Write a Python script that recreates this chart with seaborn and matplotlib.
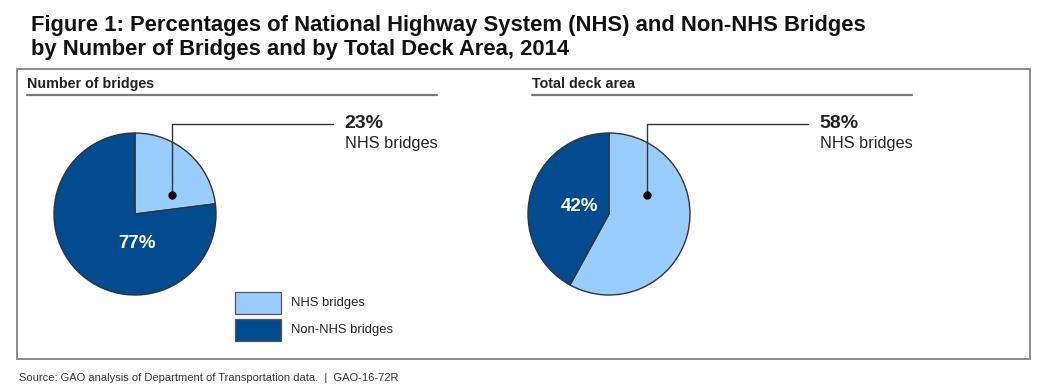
#!/usr/bin/env python3
"""
Figure 1: NHS vs Non-NHS bridges, by number and by deck area (2014)
"""

import matplotlib
matplotlib.use('Agg')
import matplotlib.pyplot as plt
from matplotlib.patches import Rectangle
from matplotlib.lines import Line2D
import seaborn as sns

# data
categories = ['NHS bridges', 'Non-NHS bridges']
pct_number = [23, 77]       # by number of bridges
pct_area = [58, 42]         # by total deck area
panel_titles = ['Number of bridges', 'Total deck area']

sns.set_theme(style='white')
plt.rcParams['font.family'] = ['Liberation Sans', 'DejaVu Sans']

colors = ['#99ccff', '#034b8f']
W, H = 1044, 392

fig = plt.figure(figsize=(W / 100, H / 100), dpi=100)


def fx(px):
    return px / W


def fy(py):
    return 1 - py / H


# title
title_font = ['Liberation Sans Narrow', 'Liberation Sans']
fig.text(fx(31), fy(31), 'Figure 1: Percentages of National Highway System (NHS) and Non-NHS Bridges',
         fontsize=15.8, fontweight='bold', va='baseline', ha='left',
         family=title_font, color='#111111')
fig.text(fx(31), fy(55.5), 'by Number of Bridges and by Total Deck Area, 2014',
         fontsize=15.8, fontweight='bold', va='baseline', ha='left',
         family=title_font, color='#111111')

# outer box
fig.patches.append(Rectangle((fx(17), fy(359)), fx(1030) - fx(17), fy(69) - fy(359),
                             transform=fig.transFigure, fill=False,
                             edgecolor='#8a8a8a', linewidth=1.4))

# panel headers + underlines
for (x0, x1), title in zip([(27, 437), (532, 912)], panel_titles):
    fig.text(fx(x0), fy(84), title, fontsize=10.3, fontweight='bold',
             va='center', ha='left', color='#222222')
    fig.lines.append(Line2D([fx(x0), fx(x1)], [fy(94.5), fy(94.5)],
                            transform=fig.transFigure, color='#7a7a7a', linewidth=1.6))

R = 81


def draw_pie(cx, cy, values, dot, line_end, text_x, big_label, inner_label):
    ax = fig.add_axes([fx(cx - R), fy(cy + R), 2 * R / W, 2 * R / H])
    ax.pie(values, colors=colors, startangle=90, counterclock=False,
           wedgeprops=dict(edgecolor='#333333', linewidth=1.0))
    ax.set_xlim(-1, 1)
    ax.set_ylim(-1, 1)
    ax.set_aspect('equal')
    ax.axis('off')
    # leader line from dot up and out to label
    top = (cy - 124) / R
    ax.plot([dot[0], dot[0], line_end], [dot[1], top, top], color='#333333',
            linewidth=1.0, clip_on=False)
    ax.plot(dot[0], dot[1], 'o', color='black', markersize=5, clip_on=False)
    ax.text(text_x, top, big_label, fontsize=14, fontweight='bold',
            ha='left', va='center', color='#222222', clip_on=False)
    ax.text(text_x, (cy - 144) / R, 'NHS bridges', fontsize=11.8,
            ha='left', va='center', color='#222222', clip_on=False)
    ax.text(inner_label[0], inner_label[1], inner_label[2], fontsize=13.5,
            fontweight='bold', ha='center', va='center', color='white')
    return ax


draw_pie(135, 214, pct_number, (0.455, 0.235), 2.44, 2.59,
         f'{pct_number[0]}%', (0.02, -0.37, f'{pct_number[1]}%'))
draw_pie(609, 214, pct_area, (0.47, 0.235), 2.46, 2.60,
         f'{pct_area[0]}%', (-0.37, 0.09, f'{pct_area[1]}%'))

# legend
for i, (lab, col) in enumerate(zip(categories, colors)):
    y0 = 292 + i * 27
    fig.patches.append(Rectangle((fx(235), fy(y0 + 22)), fx(281) - fx(235), fy(y0) - fy(y0 + 22),
                                 transform=fig.transFigure, facecolor=col,
                                 edgecolor='#555555', linewidth=0.9))
    fig.text(fx(291), fy(y0 + 11), lab, fontsize=9.4, va='center', ha='left', color='#222222')

# source
fig.text(fx(19), fy(378), 'Source: GAO analysis of Department of Transportation data.  |  GAO-16-72R',
         fontsize=8, va='center', ha='left', color='#333333')

fig.savefig('out.png', dpi=100, facecolor='white')
